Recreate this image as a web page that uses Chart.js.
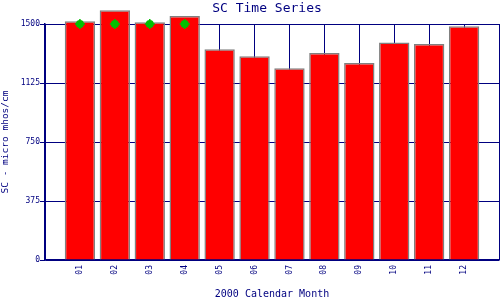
<!DOCTYPE html>
<html>
<head>
<meta charset="utf-8">
<script src="https://cdn.jsdelivr.net/npm/chart.js@4/dist/chart.umd.min.js"></script>
<style>
html,body{margin:0;padding:0;background:#fff;}
#wrap{width:500px;height:300px;}
</style>
</head>
<body>
<div id="wrap"><canvas id="c" width="500" height="300"></canvas></div>
<script>
const months = ['01','02','03','04','05','06','07','08','09','10','11','12'];
const scValues = [1517,1587,1511,1551,1339,1295,1218,1316,1252,1383,1373,1485];
const markerValues = [1500,1500,1500,1500,null,null,null,null,null,null,null,null];
const yTicks = [0,375,750,1125,1500];

const NAVY = '#000080';
const MONO = '"DejaVu Sans Mono", "Liberation Mono", monospace';

// pad the category axis with an empty slot on each side
const labels = [''].concat(months, ['']);
const pad = a => [null].concat(a, [null]);

const titlePlugin = {
  id: 'mainTitle',
  afterDraw(chart) {
    const ctx = chart.ctx;
    ctx.save();
    ctx.font = '13px ' + MONO;
    ctx.fillStyle = NAVY;
    ctx.textAlign = 'center';
    ctx.textBaseline = 'middle';
    ctx.fillText('SC Time Series', 267, 9);
    ctx.restore();
  }
};

new Chart(document.getElementById('c'), {
  type: 'bar',
  data: {
    labels: labels,
    datasets: [
      {
        type: 'line',
        label: 'marker cross',
        data: pad(markerValues),
        showLine: false,
        pointStyle: 'cross',
        pointRadius: 5,
        pointBorderWidth: 1.5,
        borderColor: '#00c000',
        backgroundColor: '#00c000',
        clip: false,
        order: 0
      },
      {
        type: 'line',
        label: 'marker',
        data: pad(markerValues),
        showLine: false,
        pointStyle: 'circle',
        pointRadius: 4,
        pointBorderWidth: 0,
        borderColor: '#00c000',
        backgroundColor: '#00c000',
        clip: false,
        order: 0
      },
      {
        label: 'SC',
        data: pad(scValues),
        backgroundColor: '#ff0000',
        borderColor: '#808080',
        borderWidth: 1.5,
        borderSkipped: 'bottom',
        barPercentage: 0.87,
        categoryPercentage: 1.0,
        clip: false,
        order: 1
      }
    ]
  },
  options: {
    responsive: false,
    animation: false,
    devicePixelRatio: 1,
    layout: { autoPadding: false, padding: { top: 24, left: 0, right: 1, bottom: 0 } },
    plugins: {
      legend: { display: false },
      title: { display: false },
      tooltip: { enabled: false }
    },
    scales: {
      x: {
        type: 'category',
        offset: false,
        grid: {
          color: NAVY,
          lineWidth: 1,
          drawTicks: false,
          offset: false
        },
        border: { color: NAVY, width: 1.5 },
        ticks: {
          color: NAVY,
          font: { family: MONO, size: 8 },
          minRotation: 90,
          maxRotation: 90,
          padding: 5,
          autoSkip: false
        },
        title: {
          display: true,
          text: '2000 Calendar Month',
          color: NAVY,
          font: { family: MONO, size: 10 },
          padding: { top: 0, bottom: 0 }
        },
        afterFit(scale) {
          scale.height = 40;
          scale.paddingLeft = 0;
          scale.paddingRight = 0;
        }
      },
      y: {
        min: 0,
        max: 1500,
        afterBuildTicks(scale) { scale.ticks = yTicks.map(v => ({ value: v })); },
        grid: {
          color: NAVY,
          lineWidth: 1,
          tickLength: 5
        },
        border: { color: NAVY, width: 1.5 },
        ticks: {
          color: NAVY,
          font: { family: MONO, size: 8 },
          padding: 0,
          callback: v => String(v)
        },
        title: {
          display: true,
          text: 'SC - micro mhos/cm',
          color: NAVY,
          font: { family: MONO, size: 9.5 },
          padding: { top: 0, bottom: 0 }
        },
        afterFit(scale) {
          scale.width = 45;
          scale.paddingTop = 0;
          scale.paddingBottom = 0;
        }
      }
    }
  },
  plugins: [titlePlugin]
});
</script>
</body>
</html>
